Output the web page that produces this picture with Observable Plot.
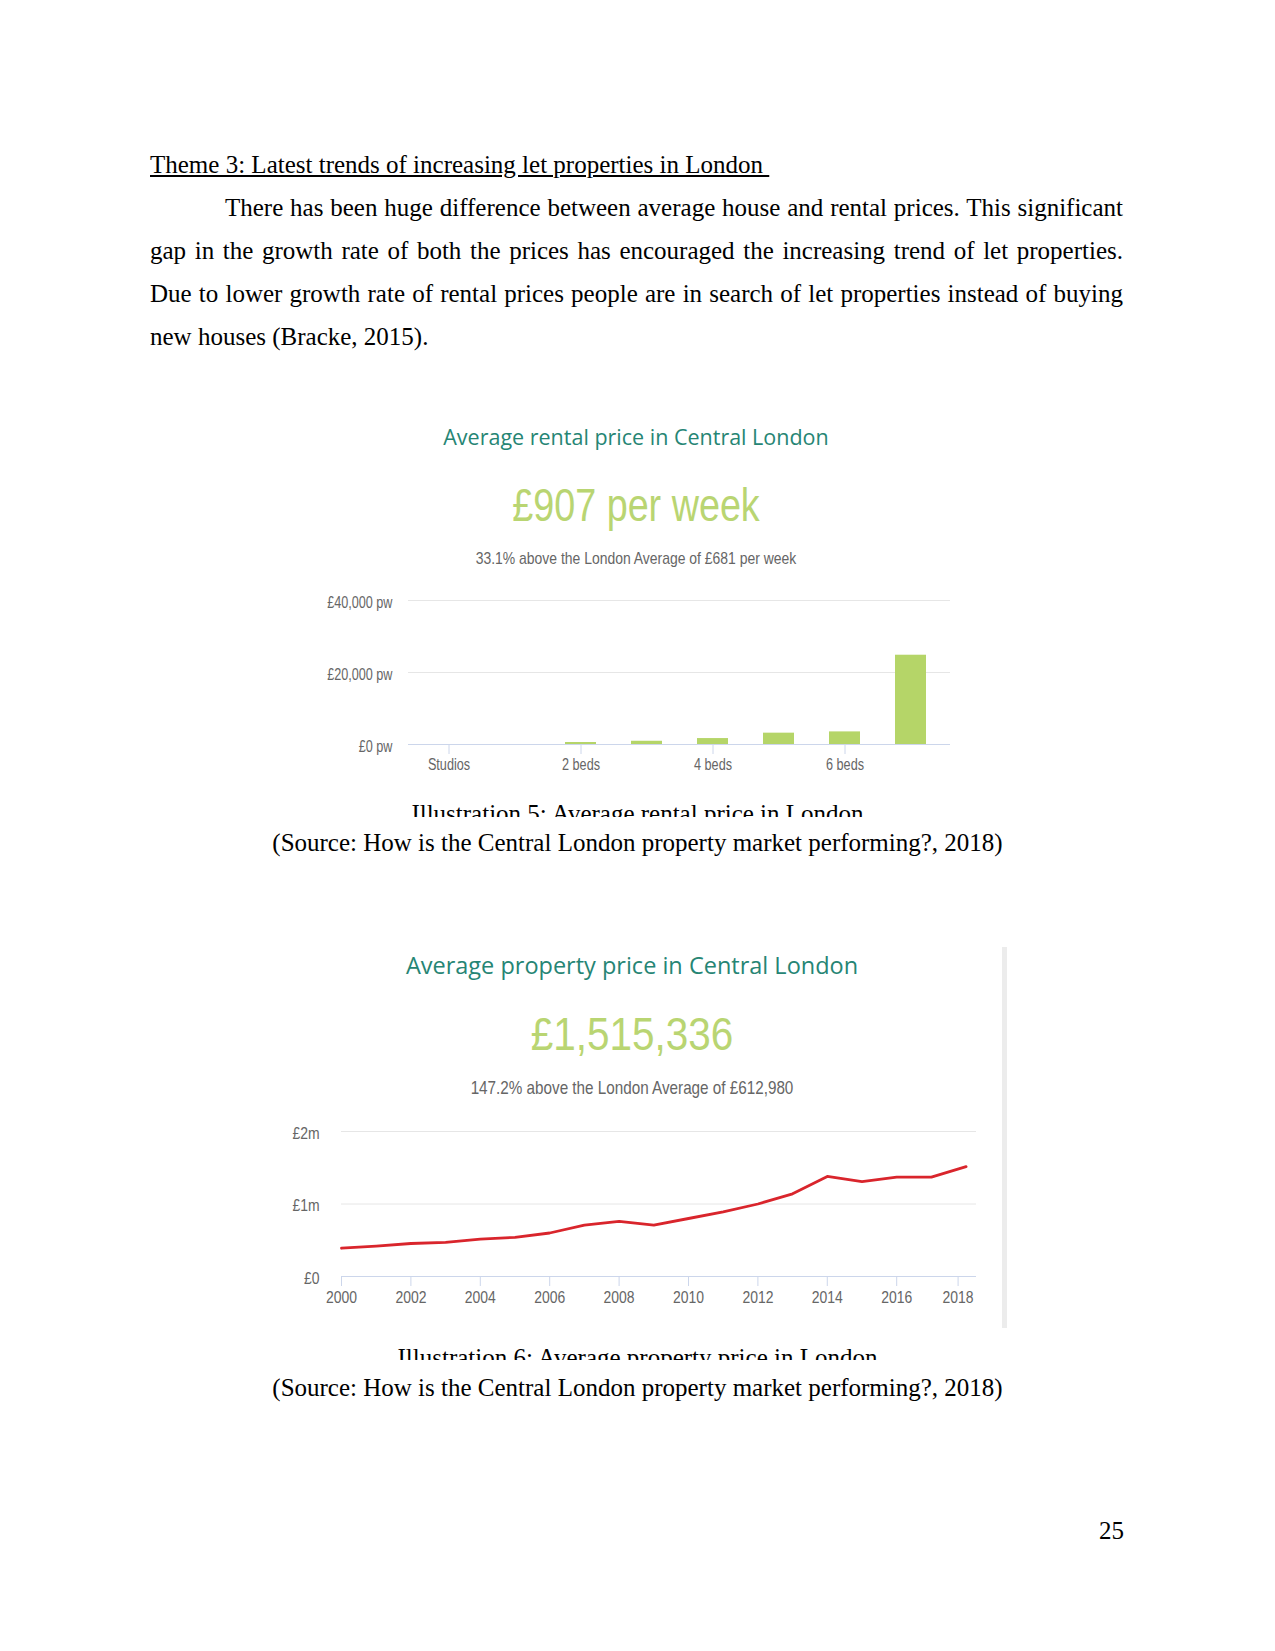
<!DOCTYPE html>
<html>
<head>
<meta charset="utf-8">
<script src="https://cdn.jsdelivr.net/npm/d3@7"></script>
<script src="https://cdn.jsdelivr.net/npm/@observablehq/plot@0.6"></script>
<style>
  html, body { margin: 0; padding: 0; background: #fff; }
  #page { position: relative; width: 1275px; height: 1651px; overflow: hidden; background: #fff; }
  .abs { position: absolute; }
  .serif { font-family: "Liberation Serif", "Times New Roman", serif; font-size: 25px; color: #000; }
  .para { left: 150px; top: 143px; width: 973px; line-height: 43px; }
  .jl { text-align: justify; text-align-last: justify; }
  .center { text-align: center; }
  .clip { overflow: hidden; }
  .sans { font-family: "Liberation Sans", Arial, sans-serif; }
  .open { font-family: "Open Sans", sans-serif; }
  .sq82 { transform: scaleX(0.82); transform-origin: 50% 50%; }
  .sq88 { transform: scaleX(0.88); transform-origin: 50% 50%; }
  svg { display: block; }
</style>
</head>
<body>
<div id="page">
  <div class="abs serif para">
    <div><span style="text-decoration: underline;">Theme 3: Latest trends of increasing let properties in London&nbsp;</span></div>
    <div class="jl" style="text-indent: 75px;">There has been huge difference between average house and rental prices. This significant</div>
    <div class="jl">gap in the growth rate of both the prices has encouraged the increasing trend of let properties.</div>
    <div class="jl">Due to lower growth rate of rental prices people are in search of let properties instead of buying</div>
    <div>new houses (Bracke, 2015).</div>
  </div>

  <!-- Chart 1 header -->
  <div class="abs open center" style="left:236px; top:422px; width:800px; font-size:21.5px; line-height:30px; color:#268574;">Average rental price in Central London</div>
  <div class="abs sans center sq82" style="left:236px; top:480px; width:800px; font-size:46px; line-height:50px; color:#b9d572;">£907 per week</div>
  <div class="abs sans center sq82" style="left:236px; top:549px; width:800px; font-size:17px; line-height:20px; color:#666;">33.1% above the London Average of £681 per week</div>
  <div id="chart1" class="abs" style="left:300px; top:580px;"></div>
  <div class="abs serif center clip" style="left:0; top:801px; width:1275px; height:16px;"><div style="line-height:25px;">Illustration 5: Average rental price in London</div></div>
  <div class="abs serif center" style="left:0; top:828px; width:1275px; line-height:30px;">(Source: How is the Central London property market performing?, 2018)</div>

  <!-- Chart 2 header -->
  <div class="abs open center" style="left:232px; top:950px; width:800px; font-size:23.5px; line-height:30px; color:#268574;">Average property price in Central London</div>
  <div class="abs sans center sq88" style="left:232px; top:1009px; width:800px; font-size:46px; line-height:50px; color:#b9d572;">£1,515,336</div>
  <div class="abs sans center sq82" style="left:232px; top:1077px; width:800px; font-size:18.6px; line-height:22px; color:#666;">147.2% above the London Average of £612,980</div>
  <div id="chart2" class="abs" style="left:260px; top:1110px;"></div>
  <div class="abs" style="left:1002px; top:947px; width:5px; height:381px; background:#ececec;"></div>
  <div class="abs serif center clip" style="left:0; top:1345px; width:1275px; height:15px;"><div style="line-height:25px;">Illustration 6: Average property price in London</div></div>
  <div class="abs serif center" style="left:0; top:1373px; width:1275px; line-height:30px;">(Source: How is the Central London property market performing?, 2018)</div>

  <div class="abs serif" style="left:1000px; top:1516px; width:124px; text-align:right; line-height:30px;">25</div>
</div>

<script>
// ---- Data: rental price by property size (£ per week) ----
const rentCategories = ["Studios", "1 bed", "2 beds", "3 beds", "4 beds", "5 beds", "6 beds", "7 beds"];
const rentValues = [null, null, 550, 900, 1650, 3150, 3500, 24800];
const rentTicksY = [0, 20000, 40000];
const rentTickLabelsX = ["Studios", "2 beds", "4 beds", "6 beds"];

// ---- Data: average property price by year (£) ----
const priceYears = [2000, 2001, 2002, 2003, 2004, 2005, 2006, 2007, 2008, 2009,
                    2010, 2011, 2012, 2013, 2014, 2015, 2016, 2017, 2018];
const priceValues = [390000, 420000, 455000, 470000, 515000, 540000, 600000, 710000, 760000, 710000,
                     800000, 890000, 1000000, 1140000, 1380000, 1310000, 1370000, 1370000, 1515336];
const priceTicksY = [0, 1000000, 2000000];
const priceTicksX = [2000, 2002, 2004, 2006, 2008, 2010, 2012, 2014, 2016, 2018];

const SANS = '"Liberation Sans", Arial, sans-serif';

// condense tick labels horizontally (narrow font of the screenshot), keeping their anchors
function squeeze(svg, k) {
  svg.querySelectorAll("text").forEach(t => {
    const len = t.getComputedTextLength();
    if (len > 0) {
      t.setAttribute("textLength", (len * k).toFixed(2));
      t.setAttribute("lengthAdjust", "spacingAndGlyphs");
    }
  });
}

const rentData = rentCategories.map((c, i) => ({type: c, value: rentValues[i]}));
const chart1 = Plot.plot({
  width: 680, height: 200,
  marginLeft: 108, marginRight: 30, marginTop: 20, marginBottom: 36,
  style: {fontFamily: SANS, fontSize: "16px", background: "transparent", color: "#666"},
  x: {type: "band", domain: rentCategories, paddingInner: 0.534, paddingOuter: 0.342, label: null},
  y: {domain: [0, 40000], label: null},
  marks: [
    Plot.gridY(rentTicksY.slice(1), {stroke: "#e6e6e6", strokeOpacity: 1}),
    Plot.barY(rentData.filter(d => d.value != null), {x: "type", y: "value", fill: "#b5d568"}),
    Plot.ruleY([0], {stroke: "#ccd6eb"}),
    Plot.axisY(rentTicksY, {tickSize: 0, tickPadding: 16, dy: 2, fill: "#666",
      tickFormat: d => "£" + d3.format(",")(d) + " pw"}),
    Plot.axisX(rentTickLabelsX, {tickSize: 10, tickPadding: 4, stroke: "#ccd6eb", fill: "#666"})
  ]
});
document.getElementById("chart1").appendChild(chart1);
squeeze(chart1, 0.79);

const priceData = priceYears.map((y, i) => ({year: y, value: priceValues[i]}));
const chart2 = Plot.plot({
  width: 760, height: 200,
  marginLeft: 81, marginRight: 44, marginTop: 21, marginBottom: 34,
  style: {fontFamily: SANS, fontSize: "17px", background: "transparent", color: "#666"},
  x: {domain: [2000, 2018.3], label: null},
  y: {domain: [0, 2000000], label: null},
  marks: [
    Plot.gridY(priceTicksY.slice(1), {stroke: "#e6e6e6", strokeOpacity: 1}),
    Plot.ruleY([0], {stroke: "#ccd6eb"}),
    Plot.lineY(priceData, {x: "year", y: "value", stroke: "#d9252c", strokeWidth: 2.8}),
    Plot.axisY(priceTicksY, {tickSize: 0, tickPadding: 22, dy: 2, fill: "#666",
      tickFormat: d => d === 0 ? "£0" : "£" + (d / 1e6) + "m"}),
    Plot.axisX(priceTicksX.slice(0, -1), {tickSize: 10, tickPadding: 4, stroke: "#ccd6eb", fill: "#666",
      tickFormat: d => String(d)}),
    Plot.axisX(priceTicksX.slice(-1), {tickSize: 10, tickPadding: 4, stroke: "#ccd6eb", fill: "#666",
      dx: -8, tickFormat: d => String(d)})
  ]
});
document.getElementById("chart2").appendChild(chart2);
squeeze(chart2, 0.82);
</script>
</body>
</html>
